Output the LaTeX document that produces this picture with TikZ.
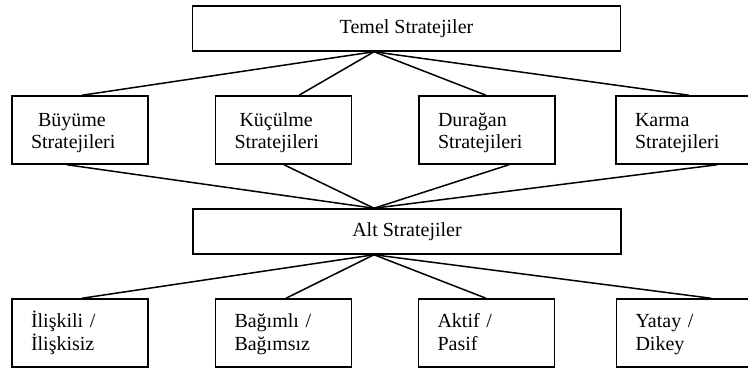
\documentclass[tikz,border=0pt]{standalone}
\usepackage{fontspec}
\setmainfont{Liberation Serif}
% fixed first-line height and last-line depth, so every box sets its lines alike
\newcommand{\toprowA}{\rule{0pt}{20pt}}
\newcommand{\toprowB}{\rule[-5pt]{0pt}{5pt}}
\newcommand{\lowrowA}{\rule{0pt}{18pt}}
\newcommand{\lowrowB}{\rule[-7pt]{0pt}{7pt}}
\begin{document}
\begin{tikzpicture}[x=1pt,y=-1pt,
  wide/.style={draw,line width=1.5pt,rectangle,inner sep=0pt,
    minimum width=428pt,minimum height=45pt,font=\fontsize{20}{22}\selectfont},
  leaf/.style={draw,line width=1.5pt,rectangle,minimum width=136pt,minimum height=68pt,
    text width=98pt,inner xsep=19pt,inner ysep=0pt,align=left,
    font=\fontsize{20}{21}\selectfont},
  leaflow/.style={leaf,font=\fontsize{20}{23}\selectfont},
  link/.style={line width=1.5pt}]
\useasboundingbox (0,0) rectangle (748,369);

% main level
\node[wide] (top) at (406.5,28.5) {Temel Stratejiler};

% strategy groups
\node[leaf] (b1) at (80,130)    {\toprowA\hspace*{7pt}Büyüme\\Stratejileri\toprowB};
\node[leaf] (b2) at (283.5,130) {\toprowA\hspace*{5pt}Küçülme\\Stratejileri\toprowB};
\node[leaf] (b3) at (487,130)   {\toprowA Durağan\\Stratejileri\toprowB};
\node[leaf] (b4) at (684,130)   {\toprowA Karma\\Stratejileri\toprowB};

% sub level
\node[wide] (alt) at (407,231.5) {Alt Stratejiler};

% sub strategy types
\node[leaflow] (c1) at (80,333)    {\lowrowA İlişkili /\\İlişkisiz\lowrowB};
\node[leaflow] (c2) at (283.5,333) {\lowrowA Bağımlı /\\Bağımsız\lowrowB};
\node[leaflow] (c3) at (486.5,333) {\lowrowA Aktif /\\Pasif\lowrowB};
\node[leaflow] (c4) at (684.5,333) {\lowrowA Yatay /\\Dikey\lowrowB};

% joints where the connectors meet
\coordinate (tj) at ([xshift=-32.5pt]top.south);
\coordinate (aj) at ([xshift=-33pt]alt.north);
\coordinate (bj) at ([xshift=-33pt]alt.south);

% top box to groups
\draw[link] (tj) -- ([xshift=2pt]b1.north);
\draw[link] (tj) -- ([xshift=15.5pt]b2.north);
\draw[link] (tj) -- ([xshift=-1pt]b3.north);
\draw[link] (tj) -- ([xshift=5pt]b4.north);

% groups to sub level
\draw[link] ([xshift=-13pt]b1.south) -- (aj);
\draw[link] ([xshift=0.5pt]b2.south) -- (aj);
\draw[link] ([xshift=22pt]b3.south) -- (aj);
\draw[link] ([xshift=33pt]b4.south) -- (aj);

% sub level to types
\draw[link] (bj) -- ([xshift=2pt]c1.north);
\draw[link] (bj) -- ([xshift=2.5pt]c2.north);
\draw[link] (bj) -- ([xshift=-0.5pt]c3.north);
\draw[link] (bj) -- ([xshift=26.5pt]c4.north);
\end{tikzpicture}
\end{document}
